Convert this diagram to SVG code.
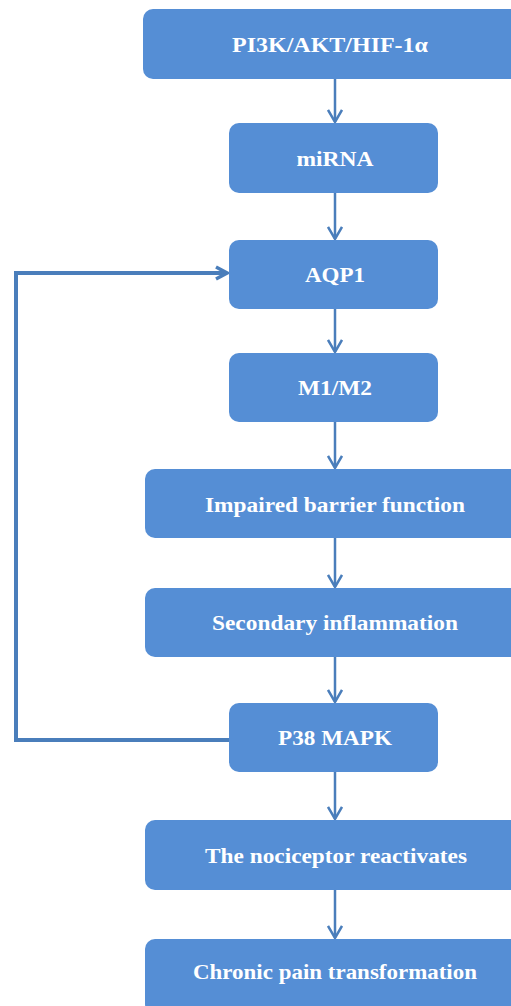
<svg xmlns="http://www.w3.org/2000/svg" width="511" height="1006" viewBox="0 0 511 1006">
<style>
.box{fill:#558ED5;}
.lbl{font-family:"Liberation Serif",serif;font-weight:bold;font-size:21px;fill:#ffffff;text-anchor:middle;}
.con{stroke:#4A7EBB;stroke-width:2.5;fill:none;}
.loop{stroke:#4A7EBB;stroke-width:4;fill:none;}
</style>
<defs>
<marker id="arr" markerWidth="16" markerHeight="16" viewBox="0 0 16 16" refX="14" refY="8" orient="auto" markerUnits="userSpaceOnUse">
<path d="M2,1 L14,8 L2,15" fill="none" stroke="#4A7EBB" stroke-width="2.5"/>
</marker>
<marker id="arr2" markerWidth="16" markerHeight="16" viewBox="0 0 16 16" refX="14" refY="8" orient="auto" markerUnits="userSpaceOnUse">
<path d="M3,2 L14,8 L3,14" fill="none" stroke="#4A7EBB" stroke-width="3.5"/>
</marker>
</defs>
<g id="connectors">
<line class="con" x1="335" y1="79" x2="335" y2="122" marker-end="url(#arr)"/>
<line class="con" x1="335" y1="193" x2="335" y2="239" marker-end="url(#arr)"/>
<line class="con" x1="335" y1="309" x2="335" y2="352" marker-end="url(#arr)"/>
<line class="con" x1="335" y1="422" x2="335" y2="468" marker-end="url(#arr)"/>
<line class="con" x1="335" y1="538" x2="335" y2="587" marker-end="url(#arr)"/>
<line class="con" x1="335" y1="657" x2="335" y2="702" marker-end="url(#arr)"/>
<line class="con" x1="335" y1="772" x2="335" y2="819" marker-end="url(#arr)"/>
<line class="con" x1="335" y1="890" x2="335" y2="938" marker-end="url(#arr)"/>
<polyline class="loop" points="229,740 16,740 16,273 227,273" marker-end="url(#arr2)"/>
</g>
<g id="n1"><rect class="box" x="143" y="9" width="384" height="70" rx="10"/><text class="lbl" x="330" y="52" textLength="196" lengthAdjust="spacingAndGlyphs">PI3K/AKT/HIF-1α</text></g>
<g id="n2"><rect class="box" x="229" y="123" width="209" height="70" rx="10"/><text class="lbl" x="335" y="166" textLength="77" lengthAdjust="spacingAndGlyphs">miRNA</text></g>
<g id="n3"><rect class="box" x="229" y="240" width="209" height="69" rx="10"/><text class="lbl" x="335" y="282" textLength="60" lengthAdjust="spacingAndGlyphs">AQP1</text></g>
<g id="n4"><rect class="box" x="229" y="353" width="209" height="69" rx="10"/><text class="lbl" x="335" y="395" textLength="74" lengthAdjust="spacingAndGlyphs">M1/M2</text></g>
<g id="n5"><rect class="box" x="145" y="469" width="382" height="69" rx="10"/><text class="lbl" x="335" y="512" textLength="260" lengthAdjust="spacingAndGlyphs">Impaired barrier function</text></g>
<g id="n6"><rect class="box" x="145" y="588" width="382" height="69" rx="10"/><text class="lbl" x="335" y="630" textLength="246" lengthAdjust="spacingAndGlyphs">Secondary inflammation</text></g>
<g id="n7"><rect class="box" x="229" y="703" width="209" height="69" rx="10"/><text class="lbl" x="335" y="745" textLength="114" lengthAdjust="spacingAndGlyphs">P38 MAPK</text></g>
<g id="n8"><rect class="box" x="145" y="820" width="382" height="70" rx="10"/><text class="lbl" x="336" y="863" textLength="262" lengthAdjust="spacingAndGlyphs">The nociceptor reactivates</text></g>
<g id="n9"><rect class="box" x="145" y="939" width="382" height="75" rx="10"/><text class="lbl" x="335" y="979" textLength="284" lengthAdjust="spacingAndGlyphs">Chronic pain transformation</text></g>
</svg>
